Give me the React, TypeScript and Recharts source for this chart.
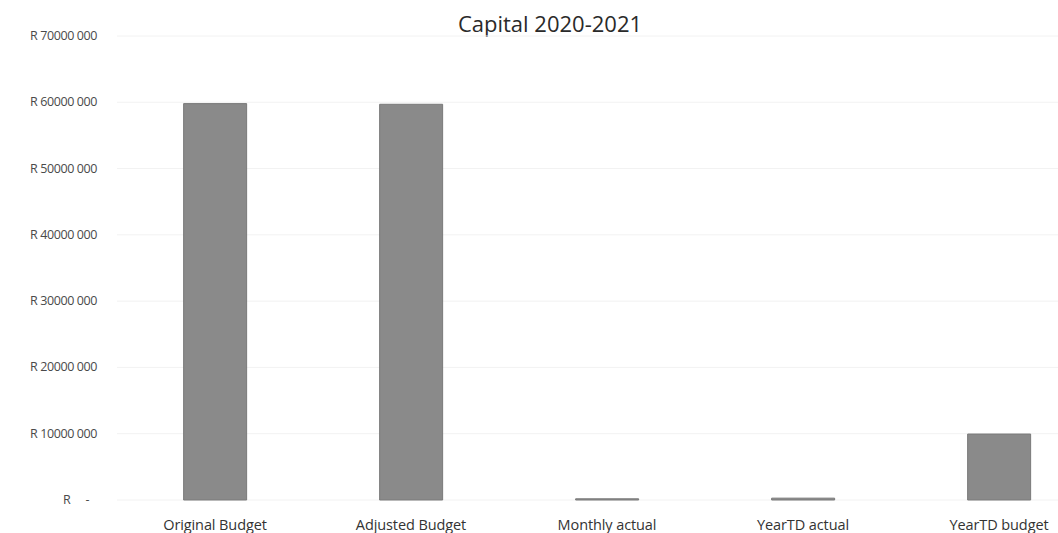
import { Bar, BarChart, CartesianGrid, XAxis, YAxis } from 'recharts';

const categories = ['Original Budget', 'Adjusted Budget', 'Monthly actual', 'YearTD actual', 'YearTD budget'];
const amounts = [59800000, 59700000, 180000, 280000, 9950000];
const yTicks = [0, 10000000, 20000000, 30000000, 40000000, 50000000, 60000000, 70000000];

const data = categories.map((name, i) => ({ name, amount: amounts[i] }));

const FONT = '"Open Sans", "Noto Sans", sans-serif';

function formatRand(value: number) {
  const thousands = Math.floor(value / 1000);
  return `R ${thousands} 000`;
}

function YTick({ x, y, payload }: any) {
  const common = { y, dy: 4, fontSize: 12.5, fill: '#4a4a4a', fontFamily: FONT, letterSpacing: -0.4 };
  if (payload.value === 0) {
    // accounting style zero: "R" pushed left, dash on the right
    return (
      <g>
        <text {...common} x={x - 46} textAnchor="start">R</text>
        <text {...common} x={x - 20} textAnchor="end">-</text>
      </g>
    );
  }
  return (
    <text {...common} x={x - 12} textAnchor="end">
      {formatRand(payload.value)}
    </text>
  );
}

function XTick({ x, y, payload }: any) {
  return (
    <text x={x} y={y + 22} textAnchor="middle" fontSize={14.5} fill="#333" fontFamily={FONT} letterSpacing={-0.1}>
      {payload.value}
    </text>
  );
}

export default function App() {
  return (
    <div style={{ position: 'fixed', left: 0, top: 0, width: 1058, height: 533, overflow: 'hidden', background: '#fff' }}>
      <div
        style={{
          position: 'absolute',
          left: 0,
          width: 1100,
          top: 8,
          textAlign: 'center',
          fontFamily: FONT,
          fontSize: 22,
          lineHeight: '30px',
          color: '#2a2a2a',
        }}
      >
        Capital 2020-2021
      </div>
      <BarChart
        width={1100}
        height={533}
        data={data}
        margin={{ top: 36, right: 3, left: 0, bottom: 0 }}
        barCategoryGap="34%"
        style={{ overflow: 'visible' }}
      >
        <CartesianGrid stroke="#f2f2f2" vertical={false} />
        <XAxis dataKey="name" height={33} tickLine={false} axisLine={false} tick={<XTick />} interval={0} />
        <YAxis
          width={117}
          domain={[0, 70000000]}
          ticks={yTicks}
          tickLine={false}
          axisLine={false}
          tick={<YTick />}
        />
        <Bar dataKey="amount" fill="#8a8a8a" stroke="#7a7a7a" strokeWidth={1} isAnimationActive={false} />
      </BarChart>
    </div>
  );
}
